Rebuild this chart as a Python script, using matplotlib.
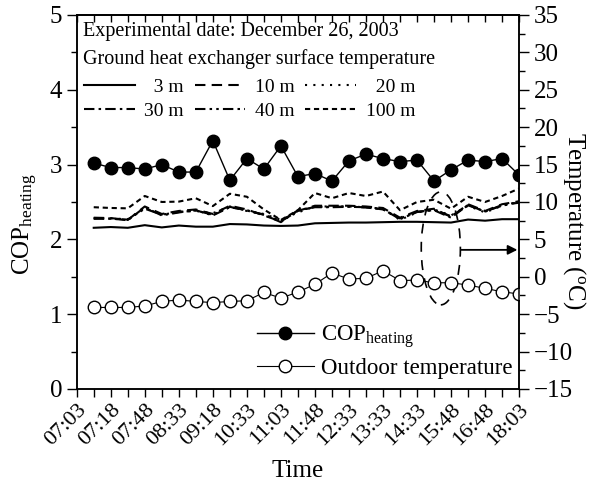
import matplotlib
matplotlib.use('Agg')
import matplotlib.pyplot as plt
import numpy as np
from matplotlib.patches import Ellipse
from matplotlib.ticker import MultipleLocator

plt.rcParams['font.family'] = 'Liberation Serif'
plt.rcParams['mathtext.fontset'] = 'custom'
plt.rcParams['mathtext.rm'] = 'Liberation Serif'
plt.rcParams['mathtext.it'] = 'Liberation Serif:italic'

# tick labels (every second sample)
time_labels = ['07:03', '07:18', '07:48', '08:33', '09:18', '10:33', '11:03',
               '11:48', '12:33', '13:33', '14:33', '15:48', '16:48', '18:03']

# COP of heating
cop = [3.02, 2.96, 2.96, 2.94, 3.00, 2.90, 2.90, 3.32, 2.79, 3.08, 2.94, 3.25, 2.84,
       2.88, 2.78, 3.05, 3.14, 3.08, 3.04, 3.06, 2.78, 2.93, 3.06, 3.04, 3.08, 2.86]

# outdoor temperature (C)
t_out = [-4.1, -4.1, -4.1, -3.9, -3.3, -3.1, -3.3, -3.45, -3.3, -3.2, -2.1, -2.85, -2.05,
         -1.0, 0.5, -0.3, -0.2, 0.8, -0.5, -0.45, -0.8, -0.8, -1.1, -1.55, -2.0, -2.3]

# ground heat exchanger surface temperature (C)
g3 = [6.55, 6.65, 6.55, 6.9, 6.6, 6.85, 6.7, 6.7, 7.05, 7.0, 6.85, 6.8, 6.85,
      7.15, 7.2, 7.25, 7.25, 7.3, 7.35, 7.35, 7.3, 7.25, 7.65, 7.5, 7.7, 7.7]
g10 = [7.9, 7.85, 7.6, 9.4, 8.4, 8.8, 9.0, 8.4, 9.5, 9.0, 8.2, 7.4, 8.8,
       9.5, 9.5, 9.5, 9.4, 9.2, 7.9, 8.8, 9.1, 8.0, 9.7, 8.8, 9.7, 10.1]
g20 = [7.85, 7.8, 7.7, 9.2, 8.3, 8.7, 8.8, 8.5, 9.4, 8.8, 8.4, 7.6, 8.6,
       9.4, 9.4, 9.4, 9.3, 9.1, 7.6, 8.6, 9.0, 8.2, 9.5, 8.6, 9.5, 10.0]
g30 = [7.75, 7.8, 7.55, 9.3, 8.2, 8.6, 8.9, 8.2, 9.3, 8.9, 8.3, 7.3, 8.9,
       9.3, 9.3, 9.35, 9.3, 9.0, 7.8, 8.7, 8.9, 7.9, 9.6, 8.7, 9.6, 9.9]
g40 = [7.8, 7.75, 7.65, 9.1, 8.3, 8.65, 8.85, 8.3, 9.35, 8.85, 8.3, 7.5, 8.8,
       9.35, 9.35, 9.4, 9.25, 9.05, 7.7, 8.65, 8.95, 8.1, 9.55, 8.75, 9.5, 10.05]
g100 = [9.3, 9.2, 9.15, 10.8, 10.0, 10.05, 10.5, 9.45, 11.1, 10.7, 9.0, 7.6, 8.9,
        11.2, 10.5, 11.2, 10.8, 11.4, 8.9, 10.0, 10.3, 9.1, 10.7, 10.0, 10.8, 11.8]

x = np.arange(1, len(cop) + 1)

fig = plt.figure(figsize=(6.05, 4.88), dpi=100)
ax = fig.add_axes([0.1268, 0.2029, 0.7312, 0.7664])
ax2 = ax.twinx()

# COP on left axis
l_cop, = ax.plot(x, cop, '-', color='k', lw=1.0, marker='o', ms=9,
                 mfc='k', mec='k', label='COP$_{\\mathrm{heating}}$')

# ground temperatures on right axis (labels padded so texts line up right)
lw = 1.5
h3, = ax2.plot(x, g3, color='k', lw=lw, ls='-', label='  3 m')
h10, = ax2.plot(x, g10, color='k', lw=lw, ls=(0, (5, 3)), label='10 m')
h20, = ax2.plot(x, g20, color='k', lw=lw, ls=(0, (1, 3)), label='  20 m')
h30, = ax2.plot(x, g30, color='k', lw=lw, ls=(0, (5, 2, 1.2, 2)), label='30 m')
h40, = ax2.plot(x, g40, color='k', lw=lw, ls=(0, (5, 2, 1.2, 2, 1.2, 2)), label='40 m')
h100, = ax2.plot(x, g100, color='k', lw=lw, ls=(0, (2.5, 1.8)), label='100 m')

l_out, = ax2.plot(x, t_out, '-', color='k', lw=0.8, marker='o', ms=9,
                  mfc='white', mec='k', mew=1.0, label='Outdoor temperature')

# highlight and arrow pointing to right axis
ax2.add_patch(Ellipse((21.4, 3.8), width=2.3, height=15.1, fill=False,
                      ls=(0, (6, 5)), lw=1.2, color='k'))
ax2.annotate('', xy=(25.9, 3.6), xytext=(22.6, 3.6),
             arrowprops=dict(arrowstyle='-|>', lw=1.3, color='k', mutation_scale=14,
                             shrinkA=0, shrinkB=0))

# axes limits and ticks
ax.set_xlim(0, 26)
ax.set_ylim(0, 5)
ax2.set_ylim(-15, 35)

xt = np.arange(0, 27)
ax.set_xticks(xt)
labels = []
for i in xt:
    labels.append(time_labels[i // 2] if i % 2 == 0 else '')
ax.set_xticklabels(labels, rotation=45, ha='right', rotation_mode='anchor', fontsize=16)
ax.tick_params(axis='x', direction='out', length=6, width=1, pad=2)

ax.yaxis.set_major_locator(MultipleLocator(1))
ax.yaxis.set_minor_locator(MultipleLocator(0.5))
ax.tick_params(axis='y', which='major', direction='out', length=7, width=1, labelsize=18)
ax.tick_params(axis='y', which='minor', direction='out', length=4, width=1)

ax2.yaxis.set_major_locator(MultipleLocator(5))
ax2.yaxis.set_minor_locator(MultipleLocator(2.5))
ax2.tick_params(axis='y', which='major', direction='out', length=7, width=1, labelsize=18)
ax2.tick_params(axis='y', which='minor', direction='out', length=4, width=1)

top = ax.secondary_xaxis('top')
top.set_xticks(xt)
top.tick_params(direction='in', length=5, width=1, labeltop=False)

for a in (ax, ax2):
    for s in a.spines.values():
        s.set_linewidth(1.1)
for s in top.spines.values():
    s.set_linewidth(1.1)

ax.set_xlabel('Time', fontsize=18, labelpad=8)
ax.set_ylabel('COP$_{\\mathrm{heating}}$', fontsize=18)
ax.yaxis.set_label_coords(-0.083, 0.44)
ax2.set_ylabel('Temperature ($^{\\mathrm{o}}$C)', fontsize=18, rotation=270)
ax2.yaxis.set_label_coords(1.155, 0.45)

# annotation texts
ax.text(0.014, 0.957, 'Experimental date: December 26, 2003', transform=ax.transAxes,
        fontsize=14.5, va='center', ha='left')
ax.text(0.014, 0.883, 'Ground heat exchanger surface temperature', transform=ax.transAxes,
        fontsize=14.5, va='center', ha='left')

leg1 = ax2.legend(handles=[h3, h30, h10, h40, h20, h100], ncol=3, loc='upper left',
                  bbox_to_anchor=(0.012, 0.835), frameon=False, fontsize=14,
                  handlelength=2.6, handletextpad=0.5, columnspacing=0.55,
                  labelspacing=0.3, borderaxespad=0, borderpad=0.1)
ax2.add_artist(leg1)

ax2.legend(handles=[l_cop, l_out], loc='lower right', bbox_to_anchor=(0.99, 0.02),
           frameon=False, fontsize=16.5, handlelength=2.5, handletextpad=0.3,
           labelspacing=0.35, borderaxespad=0, borderpad=0.1)

fig.savefig('out.png', dpi=100)
